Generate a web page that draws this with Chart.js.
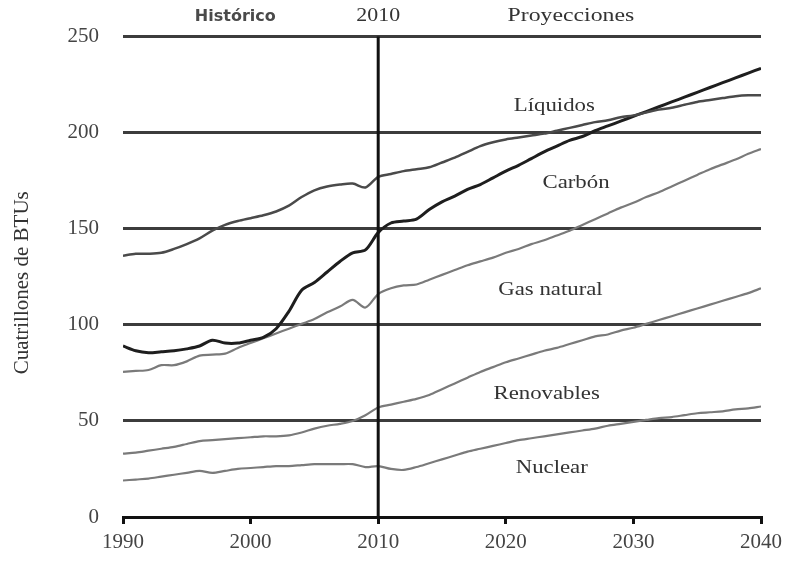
<!DOCTYPE html>
<html>
<head>
<meta charset="utf-8">
<script src="https://cdn.jsdelivr.net/npm/chart.js@4/dist/chart.umd.min.js"></script>
<style>
  html, body { margin: 0; padding: 0; background: #fff; }
  #wrap { width: 788px; height: 561px; }
</style>
</head>
<body>
<div id="wrap"><canvas id="myChart" width="788" height="561"></canvas></div>
<script>
const years = [1990, 1991, 1992, 1993, 1994, 1995, 1996, 1997, 1998, 1999,
  2000, 2001, 2002, 2003, 2004, 2005, 2006, 2007, 2008, 2009,
  2010, 2011, 2012, 2013, 2014, 2015, 2016, 2017, 2018, 2019,
  2020, 2021, 2022, 2023, 2024, 2025, 2026, 2027, 2028, 2029,
  2030, 2031, 2032, 2033, 2034, 2035, 2036, 2037, 2038, 2039, 2040];

const liquidos = [136, 137, 137, 137.5, 139.5, 142, 145, 149, 152, 154,
  155.5, 157, 159, 162, 166.5, 170, 172, 173, 173.5, 171.5,
  177, 178.5, 180, 181, 182, 184.5, 187, 190, 193, 195,
  196.5, 197.5, 198.5, 199.5, 201, 202.5, 204, 205.5, 206.5, 208,
  209, 210.5, 212, 213, 214.5, 216, 217, 218, 219, 219.5, 219.5];

const carbon = [89, 86.5, 85.5, 86, 86.5, 87.5, 89, 92, 90.5, 90.5,
  92, 93.5, 98, 107, 118, 122, 127.5, 133, 137.5, 139,
  148, 153, 154, 155, 160, 164, 167, 170.5, 173, 176.5,
  180, 183, 186.5, 190, 193, 196, 198, 201, 203.5, 206,
  208.5, 211, 213.5, 216, 218.5, 221, 223.5, 226, 228.5, 231, 233.5];

const gasNatural = [75.5, 76, 76.5, 79, 79, 81, 84, 84.5, 85, 88,
  90.5, 93, 95.5, 98, 100.5, 103, 106.5, 109.5, 113, 109,
  116, 119, 120.5, 121, 123.5, 126, 128.5, 131, 133, 135,
  137.5, 139.5, 142, 144, 146.5, 149, 152, 155, 158, 161,
  163.5, 166.5, 169, 172, 175, 178, 181, 183.5, 186, 189, 191.5];

const renovables = [33, 33.5, 34.5, 35.5, 36.5, 38, 39.5, 40, 40.5, 41,
  41.5, 42, 42, 42.5, 44, 46, 47.5, 48.5, 50, 53,
  57, 58.5, 60, 61.5, 63.5, 66.5, 69.5, 72.5, 75.5, 78,
  80.5, 82.5, 84.5, 86.5, 88, 90, 92, 94, 95, 97,
  98.5, 100.5, 102.5, 104.5, 106.5, 108.5, 110.5, 112.5, 114.5, 116.5, 119];

const nuclear = [19, 19.5, 20, 21, 22, 23, 24, 23, 24, 25,
  25.5, 26, 26.5, 26.5, 27, 27.5, 27.5, 27.5, 27.5, 26,
  26.5, 25, 24.5, 26, 28, 30, 32, 34, 35.5, 37,
  38.5, 40, 41, 42, 43, 44, 45, 46, 47.5, 48.5,
  49.5, 50.5, 51.5, 52, 53, 54, 54.5, 55, 56, 56.5, 57.5];

// etiquetas dentro del grafico: [texto, año, valor]
const seriesLabels = [
  ["Líquidos", 2023.8, 214],
  ["Carbón", 2025.5, 174],
  ["Gas natural", 2023.5, 118],
  ["Renovables", 2023.2, 64],
  ["Nuclear", 2023.6, 25.5]
];
const yTicks = [0, 50, 100, 150, 200, 250];
const xTicks = [1990, 2000, 2010, 2020, 2030, 2040];
const divisionYear = 2010;

function toPoints(values) {
  return values.map((v, i) => ({ x: years[i], y: v }));
}

const serif = "'Liberation Serif', 'Times New Roman', serif";

// texto algo ensanchado, como en la imagen original
function wideText(ctx, text, x, y, stretch) {
  ctx.save();
  ctx.translate(x, y);
  ctx.scale(stretch, 1);
  ctx.fillText(text, 0, 0);
  ctx.restore();
}

// Linea vertical de 2010, textos de cabecera y etiquetas de series
const decorPlugin = {
  id: "decor",
  afterDatasetsDraw(chart) {
    const ctx = chart.ctx;
    const xs = chart.scales.x;
    const ys = chart.scales.y;
    const area = chart.chartArea;
    const xd = xs.getPixelForValue(divisionYear);
    ctx.save();
    ctx.strokeStyle = "#111";
    ctx.lineWidth = 3;
    ctx.beginPath();
    ctx.moveTo(xd, area.top);
    ctx.lineTo(xd, area.bottom);
    ctx.stroke();

    ctx.fillStyle = "#333";
    ctx.textAlign = "center";
    ctx.textBaseline = "middle";
    ctx.font = "19px " + serif;
    seriesLabels.forEach(([t, x, y]) => {
      wideText(ctx, t, xs.getPixelForValue(x), ys.getPixelForValue(y), 1.2);
    });

    wideText(ctx, "2010", xd, 16, 1.15);
    wideText(ctx, "Proyecciones", xs.getPixelForValue(2025.1), 16, 1.25);
    ctx.font = "bold 16px 'DejaVu Sans', sans-serif";
    ctx.fillStyle = "#4a4a4a";
    wideText(ctx, "Histórico", xs.getPixelForValue(1998.8), 17, 1.0);

    ctx.fillStyle = "#333";
    ctx.translate(22, (area.top + area.bottom) / 2 + 6);
    ctx.rotate(-Math.PI / 2);
    ctx.font = "21px " + serif;
    ctx.fillText("Cuatrillones de BTUs", 0, 0);
    ctx.restore();
  }
};

function lineDataset(label, values, color, width) {
  return {
    label: label,
    data: toPoints(values),
    borderColor: color,
    borderWidth: width,
    pointRadius: 0,
    tension: 0.3,
    fill: false
  };
}

const ctx = document.getElementById("myChart").getContext("2d");
new Chart(ctx, {
  type: "line",
  data: {
    datasets: [
      lineDataset("Líquidos", liquidos, "#4a4a4a", 2.5),
      lineDataset("Carbón", carbon, "#1e1e1e", 3),
      lineDataset("Gas natural", gasNatural, "#7a7a7a", 2.2),
      lineDataset("Renovables", renovables, "#7a7a7a", 2.2),
      lineDataset("Nuclear", nuclear, "#7a7a7a", 2.2)
    ]
  },
  options: {
    responsive: false,
    animation: false,
    layout: { padding: { top: 36, right: 26, left: 0, bottom: 0 } },
    plugins: {
      legend: { display: false },
      tooltip: { enabled: false }
    },
    scales: {
      x: {
        type: "linear",
        min: 1990,
        max: 2040,
        afterBuildTicks: (scale) => {
          scale.ticks = xTicks.map((v) => ({ value: v }));
        },
        afterFit: (scale) => { scale.height = 44; },
        border: { display: true, color: "#111", width: 3 },
        grid: {
          drawOnChartArea: false,
          drawTicks: true,
          tickLength: 7,
          color: "#111",
          lineWidth: 3
        },
        ticks: {
          color: "#444",
          padding: 6,
          font: { family: serif, size: 21 },
          maxRotation: 0,
          callback: (v) => String(v)
        }
      },
      y: {
        min: 0,
        max: 250,
        afterBuildTicks: (scale) => {
          scale.ticks = yTicks.map((v) => ({ value: v }));
        },
        afterFit: (scale) => { scale.width = 123; },
        border: { display: false },
        grid: {
          drawTicks: false,
          color: "#3c3c3c",
          lineWidth: 3
        },
        ticks: {
          color: "#444",
          padding: 24,
          font: { family: serif, size: 21 }
        }
      }
    }
  },
  plugins: [decorPlugin]
});
</script>
</body>
</html>
